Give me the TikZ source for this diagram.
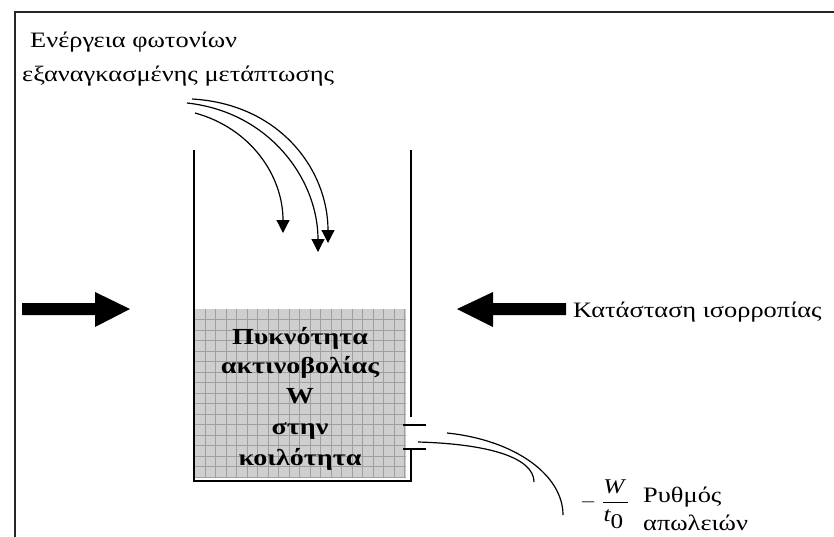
\documentclass[tikz,border=0pt]{standalone}
\usepackage{fontspec}
\setmainfont[FakeStretch=1.2,BoldFeatures={FakeStretch=1.22}]{Liberation Serif}
\usetikzlibrary{arrows.meta}
\begin{document}
\begin{tikzpicture}[x=1pt,y=-1pt,
  wall/.style={line width=1.5pt},
  photon/.style={line width=1.2pt,-{Triangle[length=13pt,width=13pt]}},
  leak/.style={line width=1.2pt},
  label/.style={font=\fontsize{22}{26}\selectfont,inner sep=0pt},
  boxtext/.style={font=\fontsize{23}{26}\selectfont\bfseries,inner sep=0pt,anchor=base}]
\useasboundingbox (0,0) rectangle (834,536);

%draw the outer frame
\draw[line width=2pt,black!85] (15,545) -- (15,12) -- (845,12);

%the radiation inside the cavity
\fill[gray!38] (195,309) rectangle (406,478);
\foreach \x in {205,215.5,...,405} \draw[gray!75,line width=0.5pt] (\x,309) -- (\x,478);
\foreach \y in {319.5,330,...,478} \draw[gray!75,line width=0.5pt] (195,\y) -- (406,\y);

%the cavity walls with the outlet
\draw[wall] (194,150) -- (194,481) -- (411,481) -- (411,449);
\draw[wall] (411,150) -- (411,417);
\draw[wall] (403,425) -- (426,425);
\draw[wall] (403,449) -- (426,449);

%text in the cavity
\foreach \txt/\yy [count=\i] in {Πυκνότητα/344,ακτινοβολίας/373,W/403,στην/434,κοιλότητα/465}
  \node[boxtext] (dens\i) at (300,\yy) {\txt};

%stimulated emission photons
\node[label,anchor=base west] (stim1) at (30,47) {Ενέργεια φωτονίων};
\node[label,anchor=base west] (stim2) at (22,81) {εξαναγκασμένης μετάπτωσης};
\draw[photon] (195,113) .. controls (250,128) and (283,175) .. (283,233);
\draw[photon] (187,103) .. controls (270,112) and (318,180) .. (318,252);
\draw[photon] (192,99) .. controls (280,104) and (328,170) .. (328,243);

%equilibrium arrows
\fill (22,303) -- (95,303) -- (95,292) -- (130,309) -- (95,327) -- (95,315) -- (22,315) -- cycle;
\fill (566,303) -- (493,303) -- (493,292) -- (457,309) -- (493,327) -- (493,315) -- (566,315) -- cycle;
\node[label,anchor=base west] (equil) at (573,317) {Κατάσταση ισορροπίας};

%loss through the outlet
\draw[leak] (447,433) .. controls (515,440) and (563,475) .. (563,515);
\draw[leak] (418,442) .. controls (490,444) and (534,458) .. (534,482);
\node[label,font=\fontsize{21}{24}\selectfont,anchor=west] (rate) at (580,504) {$\displaystyle-\;\frac{\textit{W}\,}{\textit{t}_{\textrm{0}}\,}$};
\node[label,anchor=base west] (loss1) at (643,502) {Ρυθμός};
\node[label,anchor=base west] (loss2) at (643,530) {απωλειών};

\end{tikzpicture}
\end{document}
